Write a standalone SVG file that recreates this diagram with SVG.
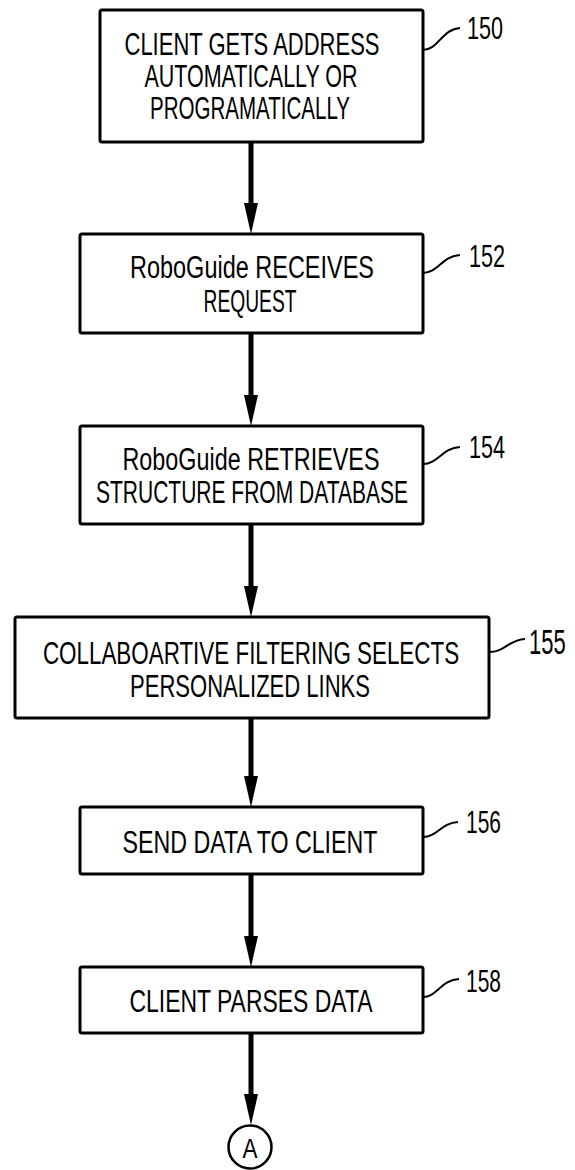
<svg xmlns="http://www.w3.org/2000/svg" width="575" height="1170" viewBox="0 0 575 1170">
<style>
.box{fill:#fff;stroke:#000;stroke-width:3}
.t{font-family:"Liberation Sans",Arial,sans-serif;font-size:31px;fill:#000;text-anchor:middle}
.lbl{font-family:"Liberation Sans",Arial,sans-serif;font-size:31px;fill:#000}
.lead{fill:none;stroke:#000;stroke-width:2}
.conn{fill:none;stroke:#000;stroke-width:5;marker-end:url(#ah)}
</style>
<defs>
<marker id="ah" markerUnits="userSpaceOnUse" markerWidth="31" markerHeight="14" refX="6" refY="7" orient="auto">
<path d="M0,0 L31,7 L0,14 z" fill="#000"/>
</marker>
</defs>
<rect width="575" height="1170" fill="#fff"/>
<g id="connectors">
<path class="conn" d="M251,142 V209"/>
<path class="conn" d="M251,333 V401"/>
<path class="conn" d="M251,524 V592"/>
<path class="conn" d="M251,718 V782"/>
<path class="conn" d="M251,874 V942"/>
<path class="conn" d="M251,1033 V1100"/>
</g>
<g id="n150">
<rect class="box" x="100" y="10" width="323" height="132" rx="2"/>
<text class="t" transform="translate(252,55) scale(0.75,1)" x="0" y="0" textLength="340" lengthAdjust="spacingAndGlyphs">CLIENT GETS ADDRESS</text>
<text class="t" x="251" y="87" textLength="213" lengthAdjust="spacingAndGlyphs">AUTOMATICALLY OR</text>
<text class="t" x="250" y="119" textLength="200" lengthAdjust="spacingAndGlyphs">PROGRAMATICALLY</text>
<path class="lead" d="M423,50 C438,50 442,29 460,28"/>
<text class="lbl" x="467" y="39" textLength="36" lengthAdjust="spacingAndGlyphs">150</text>
</g>
<g id="n152">
<rect class="box" x="80" y="234" width="343" height="99" rx="2"/>
<text class="t" x="252" y="278" textLength="244" lengthAdjust="spacingAndGlyphs">RoboGuide RECEIVES</text>
<text class="t" x="250" y="312" textLength="93" lengthAdjust="spacingAndGlyphs">REQUEST</text>
<path class="lead" d="M423,273 C438,273 442,256 460,255"/>
<text class="lbl" x="469" y="267" textLength="36" lengthAdjust="spacingAndGlyphs">152</text>
</g>
<g id="n154">
<rect class="box" x="80" y="426" width="343" height="98" rx="2"/>
<text class="t" x="251" y="470" textLength="257" lengthAdjust="spacingAndGlyphs">RoboGuide RETRIEVES</text>
<text class="t" x="252" y="503" textLength="312" lengthAdjust="spacingAndGlyphs">STRUCTURE FROM DATABASE</text>
<path class="lead" d="M423,464 C438,464 442,448 460,447"/>
<text class="lbl" x="469" y="458" textLength="36" lengthAdjust="spacingAndGlyphs">154</text>
</g>
<g id="n155">
<rect class="box" x="15" y="617" width="474" height="101" rx="2"/>
<text class="t" transform="translate(251,664) scale(0.75,1)" x="0" y="0" textLength="555" lengthAdjust="spacingAndGlyphs">COLLABOARTIVE FILTERING SELECTS</text>
<text class="t" x="250" y="697" textLength="240" lengthAdjust="spacingAndGlyphs">PERSONALIZED LINKS</text>
<path class="lead" d="M489,652 C505,652 508,640 525,639"/>
<text class="lbl" transform="translate(529,654) scale(0.75,1)" x="0" y="0" textLength="49" lengthAdjust="spacingAndGlyphs" style="font-size:35px">155</text>
</g>
<g id="n156">
<rect class="box" x="80" y="807" width="343" height="67" rx="2"/>
<text class="t" x="250" y="853" textLength="255" lengthAdjust="spacingAndGlyphs">SEND DATA TO CLIENT</text>
<path class="lead" d="M423,837 C437,837 441,823 458,822"/>
<text class="lbl" x="466" y="833" textLength="35" lengthAdjust="spacingAndGlyphs">156</text>
</g>
<g id="n158">
<rect class="box" x="80" y="967" width="343" height="66" rx="2"/>
<text class="t" x="251" y="1012" textLength="243" lengthAdjust="spacingAndGlyphs">CLIENT PARSES DATA</text>
<path class="lead" d="M423,997 C437,997 441,980 459,979"/>
<text class="lbl" x="466" y="992" textLength="35" lengthAdjust="spacingAndGlyphs">158</text>
</g>
<g id="nA">
<circle cx="250" cy="1147" r="21.5" fill="#fff" stroke="#000" stroke-width="2.5"/>
<text class="t" x="250" y="1158" style="font-size:28px" textLength="15" lengthAdjust="spacingAndGlyphs">A</text>
</g>
</svg>
